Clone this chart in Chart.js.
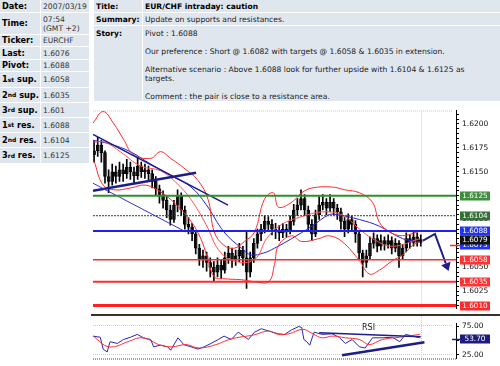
<!DOCTYPE html>
<html>
<head>
<meta charset="utf-8">
<script src="https://cdn.jsdelivr.net/npm/chart.js@4.4.0/dist/chart.umd.min.js"></script>
<style>
  body { margin: 0; width: 500px; height: 366px; position: relative; overflow: hidden; background: #fff;
         font-family: "DejaVu Sans", sans-serif; font-size: 7.6px; color: #222; }
  .c { position: absolute; background: #dfe6ee; box-sizing: border-box; padding-left: 2px;
       display: flex; align-items: center; white-space: nowrap; line-height: 9px; }
  .l { font-weight: bold; color: #000; }
  .v { color: #333; }
  .side { font-size: 8.2px; }
  .top { align-items: flex-start; padding-top: 3px; }
  sup { font-size: 6px; line-height: 0; vertical-align: 3px; }
  canvas { position: absolute; }
</style>
</head>
<body>
<!-- left info table -->
<div class="c l side" style="left:0;top:0;width:40px;height:12px">Date:</div>
<div class="c v" style="left:41px;top:0;width:48px;height:12px">2007/03/19</div>
<div class="c l side" style="left:0;top:13px;width:40px;height:21px">Time:</div>
<div class="c v" style="left:41px;top:13px;width:48px;height:21px">07:54<br>(GMT +2)</div>
<div class="c l side" style="left:0;top:35px;width:40px;height:11px">Ticker:</div>
<div class="c v" style="left:41px;top:35px;width:48px;height:11px">EURCHF</div>
<div class="c l side" style="left:0;top:47px;width:40px;height:12px">Last:</div>
<div class="c v" style="left:41px;top:47px;width:48px;height:12px">1.6076</div>
<div class="c l side" style="left:0;top:60px;width:40px;height:11px">Pivot:</div>
<div class="c v" style="left:41px;top:60px;width:48px;height:11px">1.6088</div>
<div class="c l side" style="left:0;top:72px;width:40px;height:15px">1<sup>st</sup>&nbsp;sup.</div>
<div class="c v" style="left:41px;top:72px;width:48px;height:15px">1.6058</div>
<div class="c l side" style="left:0;top:88px;width:40px;height:14px">2<sup>nd</sup>&nbsp;sup.</div>
<div class="c v" style="left:41px;top:88px;width:48px;height:14px">1.6035</div>
<div class="c l side" style="left:0;top:103px;width:40px;height:14px">3<sup>rd</sup>&nbsp;sup.</div>
<div class="c v" style="left:41px;top:103px;width:48px;height:14px">1.601</div>
<div class="c l side" style="left:0;top:118px;width:40px;height:14px">1<sup>st</sup>&nbsp;res.</div>
<div class="c v" style="left:41px;top:118px;width:48px;height:14px">1.6088</div>
<div class="c l side" style="left:0;top:133px;width:40px;height:14px">2<sup>nd</sup>&nbsp;res.</div>
<div class="c v" style="left:41px;top:133px;width:48px;height:14px">1.6104</div>
<div class="c l side" style="left:0;top:148px;width:40px;height:15px">3<sup>rd</sup>&nbsp;res.</div>
<div class="c v" style="left:41px;top:148px;width:48px;height:15px">1.6125</div>

<!-- story table -->
<div class="c l" style="left:94px;top:0;width:48px;height:12px">Title:</div>
<div class="c l" style="left:143px;top:0;width:357px;height:12px">EUR/CHF intraday: caution</div>
<div class="c l" style="left:94px;top:13px;width:48px;height:12px">Summary:</div>
<div class="c" style="left:143px;top:13px;width:357px;height:12px">Update on supports and resistances.</div>
<div class="c l top" style="left:94px;top:26px;width:48px;height:75px">Story:</div>
<div class="c top" style="left:143px;top:26px;width:357px;height:75px"><div>Pivot : 1.6088<br><br>Our preference : Short @ 1.6082 with targets @ 1.6058 &amp; 1.6035 in extension.<br><br>Alternative scenario : Above 1.6088 look for further upside with 1.6104 &amp; 1.6125 as<br>targets.<br><br>Comment : the pair is close to a resistance area.</div></div>

<canvas id="price" width="412" height="213" style="left:88px;top:103px"></canvas>
<div style="position:absolute;left:91px;top:314px;width:409px;height:2px;background:#3a3226"></div>
<canvas id="rsi" width="412" height="50" style="left:88px;top:316px"></canvas>
<div style="position:absolute;left:362px;top:323px;font-size:8px;color:#222">RSI</div>

<script>
// candles (EUR/CHF intraday)
const opens = [1.6168,1.6172,1.6178,1.6170,1.6145,1.6140,1.6150,1.6145,1.6152,1.6148,
  1.6155,1.6150,1.6146,1.6156,1.6150,1.6152,1.6148,1.6140,1.6132,1.6125,
  1.6120,1.6110,1.6100,1.6115,1.6125,1.6110,1.6095,1.6092,1.6085,1.6070,
  1.6058,1.6062,1.6055,1.6050,1.6045,1.6052,1.6047,1.6060,1.6065,1.6058,
  1.6062,1.6068,1.6060,1.6045,1.6060,1.6075,1.6085,1.6090,1.6098,1.6095,
  1.6090,1.6088,1.6086,1.6090,1.6088,1.6098,1.6110,1.6115,1.6122,1.6110,
  1.6095,1.6085,1.6105,1.6115,1.6118,1.6112,1.6118,1.6112,1.6108,1.6098,
  1.6090,1.6100,1.6095,1.6085,1.6065,1.6055,1.6062,1.6075,1.6080,1.6072,
  1.6078,1.6074,1.6078,1.6070,1.6075,1.6062,1.6070,1.6080,1.6076,1.6082,1.6076];
const highs = [1.6182,1.6186,1.6183,1.6172,1.6152,1.6158,1.6156,1.6160,1.6158,1.6163,
  1.6160,1.6155,1.6165,1.6160,1.6158,1.6156,1.6152,1.6145,1.6136,1.6130,
  1.6124,1.6115,1.6120,1.6131,1.6128,1.6114,1.6102,1.6096,1.6088,1.6074,
  1.6068,1.6066,1.6060,1.6056,1.6060,1.6058,1.6066,1.6072,1.6070,1.6068,
  1.6075,1.6072,1.6088,1.6066,1.6080,1.6090,1.6095,1.6104,1.6103,1.6100,
  1.6096,1.6094,1.6096,1.6095,1.6104,1.6116,1.6122,1.6131,1.6126,1.6114,
  1.6100,1.6110,1.6124,1.6126,1.6122,1.6126,1.6122,1.6116,1.6112,1.6102,
  1.6106,1.6104,1.6099,1.6088,1.6068,1.6068,1.6082,1.6086,1.6084,1.6084,
  1.6082,1.6084,1.6082,1.6080,1.6078,1.6074,1.6086,1.6084,1.6088,1.6086,1.6084];
const lows = [1.6160,1.6166,1.6160,1.6138,1.6128,1.6136,1.6138,1.6140,1.6140,1.6143,
  1.6142,1.6138,1.6142,1.6144,1.6143,1.6140,1.6133,1.6125,1.6117,1.6112,
  1.6102,1.6094,1.6097,1.6108,1.6104,1.6090,1.6085,1.6078,1.6064,1.6052,
  1.6050,1.6046,1.6040,1.6036,1.6040,1.6038,1.6044,1.6054,1.6050,1.6052,
  1.6056,1.6052,1.6028,1.6040,1.6055,1.6070,1.6078,1.6086,1.6088,1.6084,
  1.6080,1.6078,1.6081,1.6082,1.6085,1.6094,1.6104,1.6110,1.6104,1.6088,
  1.6078,1.6082,1.6100,1.6110,1.6105,1.6108,1.6105,1.6100,1.6090,1.6082,
  1.6086,1.6088,1.6076,1.6058,1.6040,1.6050,1.6058,1.6070,1.6066,1.6068,
  1.6068,1.6070,1.6064,1.6066,1.6050,1.6058,1.6066,1.6070,1.6072,1.6072,1.6072];
const closes = [1.6172,1.6178,1.6170,1.6145,1.6140,1.6150,1.6145,1.6152,1.6148,1.6155,
  1.6150,1.6146,1.6156,1.6150,1.6152,1.6148,1.6140,1.6132,1.6125,1.6120,
  1.6110,1.6100,1.6115,1.6125,1.6110,1.6095,1.6092,1.6085,1.6070,1.6058,
  1.6062,1.6055,1.6050,1.6045,1.6052,1.6047,1.6060,1.6065,1.6058,1.6062,
  1.6068,1.6060,1.6045,1.6060,1.6075,1.6085,1.6090,1.6098,1.6095,1.6090,
  1.6088,1.6086,1.6090,1.6088,1.6098,1.6110,1.6115,1.6122,1.6110,1.6095,
  1.6085,1.6105,1.6115,1.6118,1.6112,1.6118,1.6112,1.6108,1.6098,1.6090,
  1.6100,1.6095,1.6085,1.6065,1.6055,1.6062,1.6075,1.6080,1.6072,1.6078,
  1.6074,1.6078,1.6070,1.6075,1.6062,1.6070,1.6080,1.6076,1.6082,1.6076,1.6079];

// bollinger bands + moving average (x = candle index)
const upperX = [-0.3,2.5,5.3,8.1,10.8,15.6,18.3,21.1,24.7,28.6,31.4,33.1,35.8,38.6,41.4,44.2,46.9,49.4,50.8,54.4,57.2,60,65.6,69.2,73.1,76.7,78.6,81.4,85,89.7];
const upperBand = [1.6201,1.6213,1.6201,1.6184,1.6168,1.6164,1.6171,1.6164,1.6154,1.6141,1.6121,1.6087,1.6073,1.6070,1.6077,1.6087,1.6121,1.6128,1.6113,1.6118,1.6128,1.6133,1.6134,1.6131,1.6128,1.6118,1.6097,1.6087,1.6083,1.6088];
const lowerX = [0,2.5,5.8,10,14.2,18.3,22.5,26.7,29.4,31.4,33.1,35.8,40.6,44.2,48.1,49.7,50.8,54.4,57.2,61.9,64.7,68.3,73.1,75.8,78.6,82.2,85,87.8,89.7];
const lowerBand = [1.6161,1.6136,1.6131,1.6133,1.6136,1.6129,1.6116,1.6098,1.6080,1.6058,1.6040,1.6038,1.6037,1.6035,1.6035,1.6053,1.6073,1.6083,1.6077,1.6080,1.6083,1.6077,1.6057,1.6043,1.6047,1.6057,1.6063,1.6073,1.6077];
const midX = [0,3,7.2,12.8,18.3,22.5,26.7,30.8,35,40.6,44.7,47.5,51.7,57.2,62.8,68.3,72.5,76.7,82.2,89.7];
const midBand = [1.6181,1.6181,1.6171,1.6156,1.6151,1.6139,1.6121,1.6095,1.6065,1.6055,1.6060,1.6080,1.6095,1.6103,1.6108,1.6105,1.6092,1.6080,1.6072,1.6080];
const maX = [-0.3,4.4,10,15.6,21.1,26.7,30.8,35.8,40.6,43.3,46.7,49.7,54.4,60,64.7,66.9,73.1,78.6,85,89.7];
const maValues = [1.6183,1.6179,1.6171,1.6158,1.6146,1.6134,1.6116,1.6087,1.6070,1.6063,1.6065,1.6070,1.6080,1.6093,1.6105,1.6105,1.6100,1.6093,1.6080,1.6077];

// hand drawn trend lines [x, price]
const trendTop = [[-0.3, 1.6189], [36.9, 1.6115]];
const trendChannel = [[-0.3, 1.6138], [25.3, 1.6087]];
const trendUp = [[-0.3, 1.6130], [28.1, 1.6149]];
const arrowX = [90.6, 93.9, 96.9];
const arrowY = [1.6078, 1.6085, 1.6054];

// support / resistance levels
const levels = [1.6125, 1.6104, 1.6088, 1.6058, 1.6035, 1.6010];
const levelColors = ['#2f8f2f', '#1d4a38', '#2020f0', '#ff2a2a', '#ff2a2a', '#ff2020'];
const levelWidths = [2, 1, 2, 1.5, 2, 3];
const tagValues = [1.6125, 1.6104, 1.6088, 1.6073, 1.6079, 1.6058, 1.6035, 1.6010];
const tagColors = ['#3f8f3f', '#336f36', '#2233ee', '#1a33ff', '#111111', '#ff3333', '#ff3333', '#ff2a2a'];

// RSI
const rsiX = [-0.3,1.7,2.5,3.6,4.4,6.4,8.1,10,11.9,13.6,15.6,16.4,18.3,20.3,21.1,23.1,24.7,26.7,28.6,30.3,32.2,34.2,35.8,37.8,39.7,42.5,44.2,46.1,48.1,50.8,52.5,54.4,56.4,57.2,57.8,58.6,59.4,60.6,62.8,65.6,67.5,69.2,71.1,73.1,74.7,76.7,79.4,82.2,84.2,85.8,87.8,89.7];
const rsiValues = [58,56,35,30,48,45,52,56,61,55,52,39,42,39,33,55,43,39,35,39,45,52,58,52,65,52,65,71,67,62,61,69,75,73,52,48,42,65,61,62,56,45,52,39,37,55,55,56,48,61,58,55];
const signalX = [-0.3,4.2,9.7,12.5,15,17.8,21.4,25.3,28.9,33.6,37.2,40,44,48,50.8,53.6,57.5,60.3,62.8,65.6,69.2,73.1,75.8,79.4,84.2,88.6,89.7];
const signalValues = [58,39,49,55,52,43,39,43,37,43,52,56,60,67,61,62,70,62,55,58,55,52,43,52,56,60,61];
const rsiTrendTop = [[62, 64], [90, 57]];
const rsiTrendLow = [[68.3, 24], [91, 47]];
const rsiTicks = [25, 50, 75];
const rsiLast = 53.70;

const lastIdx = 90;
const xMin = -0.3, xMax = 99.7;
const FONT = 'DejaVu Sans';

const pts = (xs, ys) => xs.map((x, i) => ({ x, y: ys[i] }));
const pairs = (arr) => arr.map(([x, y]) => ({ x, y }));
function lineDs(data, color, width, order, extra) {
  return Object.assign({ type: 'line', data, borderColor: color, borderWidth: width,
    pointRadius: 0, fill: false, order }, extra || {});
}

const priceOverlay = {
  id: 'priceOverlay',
  beforeDatasetsDraw(chart) {
    const { ctx, chartArea: a, scales: { x } } = chart;
    ctx.save();
    ctx.strokeStyle = '#b9cde6';
    ctx.lineWidth = 1;
    ctx.setLineDash([1, 1]);
    const gx = Math.round(x.getPixelForValue(lastIdx)) + 0.5;
    ctx.beginPath();
    ctx.moveTo(gx, a.top); ctx.lineTo(gx, a.bottom);
    ctx.moveTo(a.left, a.top + 0.5); ctx.lineTo(a.right - 4, a.top + 0.5);
    ctx.stroke();
    ctx.restore();
  },
  afterDraw(chart) {
    const { ctx, chartArea: a, scales: { x, y } } = chart;
    ctx.save();
    // arrow head
    const n = arrowX.length;
    const x1 = x.getPixelForValue(arrowX[n - 2]), y1 = y.getPixelForValue(arrowY[n - 2]);
    const x2 = x.getPixelForValue(arrowX[n - 1]), y2 = y.getPixelForValue(arrowY[n - 1]);
    const len = Math.hypot(x2 - x1, y2 - y1), dx = (x2 - x1) / len, dy = (y2 - y1) / len;
    ctx.fillStyle = '#1c1c8c';
    ctx.beginPath();
    ctx.moveTo(x2 + dx * 8, y2 + dy * 8);
    ctx.lineTo(x2 - dy * 5, y2 + dx * 5);
    ctx.lineTo(x2 + dy * 5, y2 - dx * 5);
    ctx.closePath();
    ctx.fill();
    // short red mark on axis
    const ry = Math.round(y.getPixelForValue(1.6073)) + 0.5;
    ctx.strokeStyle = '#ff2020'; ctx.lineWidth = 1.5;
    ctx.beginPath(); ctx.moveTo(a.right - 6, ry); ctx.lineTo(a.right + 4, ry); ctx.stroke();
    // price tags
    ctx.font = '7.3px "' + FONT + '"';
    ctx.textAlign = 'center';
    ctx.textBaseline = 'middle';
    tagValues.forEach((v, i) => {
      const ty = Math.round(y.getPixelForValue(v));
      ctx.fillStyle = tagColors[i];
      ctx.fillRect(a.right + 4, ty - 4.5, 30, 9);
      ctx.fillStyle = '#fff';
      ctx.fillText(v.toFixed(4), a.right + 19, ty + 0.5);
    });
    ctx.restore();
  }
};

const rsiOverlay = {
  id: 'rsiOverlay',
  beforeDatasetsDraw(chart) {
    const { ctx, chartArea: a, scales: { x, y } } = chart;
    ctx.save();
    ctx.strokeStyle = '#b9cde6';
    ctx.lineWidth = 1;
    ctx.setLineDash([1, 1]);
    ctx.beginPath();
    [75, 25].forEach(v => {
      const yy = Math.round(y.getPixelForValue(v)) - 0.5;
      ctx.moveTo(a.left, yy); ctx.lineTo(a.right - 4, yy);
    });
    const gx = Math.round(x.getPixelForValue(lastIdx)) + 0.5;
    ctx.moveTo(gx, 0); ctx.lineTo(gx, a.bottom);
    ctx.stroke();
    ctx.strokeStyle = '#444';
    ctx.beginPath();
    ctx.moveTo(a.left, a.bottom + 0.5); ctx.lineTo(a.right, a.bottom + 0.5);
    ctx.stroke();
    ctx.restore();
  },
  afterDraw(chart) {
    const { ctx, chartArea: a, scales: { y } } = chart;
    ctx.save();
    const ty = Math.round(y.getPixelForValue(rsiLast));
    ctx.strokeStyle = '#1c1c7c'; ctx.lineWidth = 1.5;
    ctx.beginPath(); ctx.moveTo(a.right - 4, ty + 0.5); ctx.lineTo(a.right + 4, ty + 0.5); ctx.stroke();
    ctx.fillStyle = '#1c1c7c';
    ctx.fillRect(a.right + 4, ty - 4.5, 30, 9);
    ctx.fillStyle = '#fff';
    ctx.font = '7.3px "' + FONT + '"';
    ctx.textAlign = 'center';
    ctx.textBaseline = 'middle';
    ctx.fillText(rsiLast.toFixed(2), a.right + 19, ty + 0.5);
    ctx.restore();
  }
};

const levelSets = levels.map((lv, i) =>
  lineDs(pts([xMin, xMax], [lv, lv]), levelColors[i], levelWidths[i], 0,
    i === 1 ? { borderDash: [2, 1] } : {}));

new Chart(document.getElementById('price'), {
  type: 'bar',
  data: {
    datasets: [
      ...levelSets,
      lineDs(pts(arrowX, arrowY), '#1c1c8c', 2, 0),
      lineDs(pairs(trendTop), '#1c1c8c', 1.5, 1),
      lineDs(pairs(trendChannel), '#3434c8', 1, 1),
      lineDs(pairs(trendUp), '#1c1c8c', 2.5, 1),
      lineDs(pts(upperX, upperBand), '#ff2a2a', 1, 2, { tension: 0.4 }),
      lineDs(pts(lowerX, lowerBand), '#ff2a2a', 1, 2, { tension: 0.4 }),
      lineDs(pts(midX, midBand), '#ff5050', 1, 2, { tension: 0.4 }),
      lineDs(pts(maX, maValues), '#2424d8', 1, 2, { tension: 0.4 }),
      {
        type: 'bar', order: 3, grouped: false, barThickness: 1,
        data: lows.map((l, i) => ({ x: i, y: [l, highs[i]] })),
        backgroundColor: '#000'
      },
      {
        type: 'bar', order: 3, grouped: false, barThickness: 3,
        data: opens.map((o, i) => ({ x: i, y: [o, closes[i]] })),
        backgroundColor: '#888', borderColor: '#000', borderWidth: 1, borderSkipped: false
      }
    ]
  },
  options: {
    responsive: false,
    animation: false,
    layout: { padding: { left: 5, top: 4, right: 0, bottom: 3 } },
    plugins: { legend: { display: false }, tooltip: { enabled: false } },
    scales: {
      x: { type: 'linear', min: xMin, max: xMax, offset: false, display: false },
      y: {
        position: 'right', min: 1.60069, max: 1.62141,
        afterFit(s) { s.width = 44; },
        border: { color: '#000', width: 1 },
        grid: { drawOnChartArea: false, color: '#000', tickLength: 3 },
        ticks: {
          stepSize: 0.0005, includeBounds: false, autoSkip: false, padding: 3,
          color: '#111', font: { family: FONT, size: 7.5 },
          callback: v => (Math.round(v * 10000) % 25 === 0 ? v.toFixed(4) : '')
        }
      }
    }
  },
  plugins: [priceOverlay]
});

new Chart(document.getElementById('rsi'), {
  type: 'line',
  data: {
    datasets: [
      lineDs(pairs(rsiTrendTop), '#1c1c8c', 1.5, 0),
      lineDs(pairs(rsiTrendLow), '#1c1c8c', 2.5, 0),
      lineDs(pts(signalX, signalValues), '#ff3030', 1, 1, { tension: 0.4 }),
      lineDs(pts(rsiX, rsiValues), '#2828b8', 1, 2)
    ]
  },
  options: {
    responsive: false,
    animation: false,
    layout: { padding: { left: 5, top: 1, right: 0, bottom: 2 } },
    plugins: { legend: { display: false }, tooltip: { enabled: false } },
    scales: {
      x: { type: 'linear', min: xMin, max: xMax, display: false },
      y: {
        position: 'right', min: 18.4, max: 80.3,
        afterFit(s) { s.width = 44; },
        afterBuildTicks(s) { s.ticks = rsiTicks.map(v => ({ value: v })); },
        border: { color: '#000', width: 1 },
        grid: { drawOnChartArea: false, color: '#000', tickLength: 3 },
        ticks: { padding: 3, color: '#111', font: { family: FONT, size: 7.5 },
                 callback: v => v.toFixed(2) }
      }
    }
  },
  plugins: [rsiOverlay]
});
</script>
</body>
</html>
